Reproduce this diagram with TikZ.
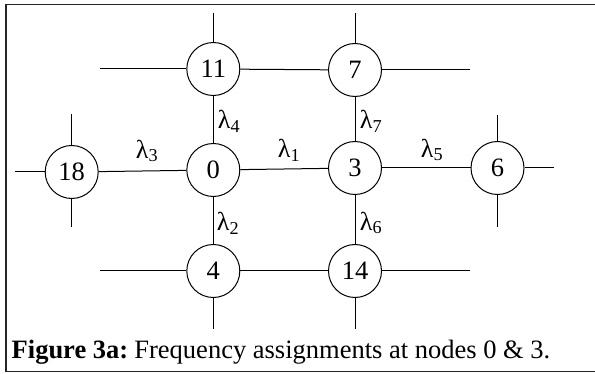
\documentclass[tikz,border=0pt]{standalone}
\usepackage{fontspec}
\setmainfont{Liberation Serif}
\begin{document}
\begin{tikzpicture}[x=1pt,y=-1pt,
  site/.style={circle,draw,line width=1pt,minimum size=53pt,inner sep=0pt,font=\fontsize{26.5}{26.5}\selectfont},
  link/.style={line width=1pt},
  wl/.style={font=\fontsize{26}{26}\selectfont,inner sep=0pt}]
  \useasboundingbox (0,0) rectangle (595,374);
  % outer frame (open on the right)
  \draw[line width=1.8pt,color=black!85] (600,4.5) -- (6,4.5) -- (6,371.5) -- (600,371.5);

  % stations
  \node[site] (n11) at (213.3,69) {11};
  \node[site] (n7)  at (355,70)   {7};
  \node[site] (n18) at (71.7,172) {18};
  \node[site] (n0)  at (213.3,170) {0};
  \node[site] (n3)  at (355,168)  {3};
  \node[site] (n6)  at (497.5,168) {6};
  \node[site] (n4)  at (213.3,271) {4};
  \node[site] (n14) at (355,271)  {14};

  % free ends of the outgoing stubs
  \coordinate (t11) at (213.3,13.3);
  \coordinate (l11) at (100,69);
  \coordinate (t7)  at (355,13.3);
  \coordinate (r7)  at (470,70);
  \coordinate (t18) at (71.7,114.3);
  \coordinate (l18) at (15,172);
  \coordinate (b18) at (71.7,227.3);
  \coordinate (t6)  at (497.5,115);
  \coordinate (r6)  at (554.3,168);
  \coordinate (b6)  at (497.5,227.3);
  \coordinate (l4)  at (100,271);
  \coordinate (b4)  at (213.3,329);
  \coordinate (r14) at (470,271);
  \coordinate (b14) at (355,329);

  % links between stations
  \draw[link] (n11) -- (n7);
  \draw[link] (n11) -- (n0);
  \draw[link] (n7) -- (n3);
  \draw[link] (n18) -- (n0);
  \draw[link] (n0) -- (n3);
  \draw[link] (n3) -- (n6);
  \draw[link] (n0) -- (n4);
  \draw[link] (n3) -- (n14);
  \draw[link] (n4) -- (n14);

  % stubs
  \draw[link] (n11) -- (t11);
  \draw[link] (n11) -- (l11);
  \draw[link] (n7) -- (t7);
  \draw[link] (n7) -- (r7);
  \draw[link] (n18) -- (t18);
  \draw[link] (n18) -- (l18);
  \draw[link] (n18) -- (b18);
  \draw[link] (n6) -- (t6);
  \draw[link] (n6) -- (r6);
  \draw[link] (n6) -- (b6);
  \draw[link] (n4) -- (l4);
  \draw[link] (n4) -- (b4);
  \draw[link] (n14) -- (r14);
  \draw[link] (n14) -- (b14);

  % wavelength labels
  \node[wl] (w4) at (229,121) {λ\textsubscript{4}};
  \node[wl] (w3) at (147,151) {λ\textsubscript{3}};
  \node[wl] (w1) at (289,150) {λ\textsubscript{1}};
  \node[wl] (w7) at (371,121) {λ\textsubscript{7}};
  \node[wl] (w5) at (432,150) {λ\textsubscript{5}};
  \node[wl] (w2) at (228,223) {λ\textsubscript{2}};
  \node[wl] (w6) at (371,223) {λ\textsubscript{6}};

  % caption
  \node[anchor=base west,inner sep=0pt,font=\fontsize{26.5}{26.5}\selectfont] (cap) at (11.5,358.3)
    {\textbf{Figure 3a:}\hspace{-0.1em} Frequency assignments at nodes 0 \& 3.};
\end{tikzpicture}
\end{document}
